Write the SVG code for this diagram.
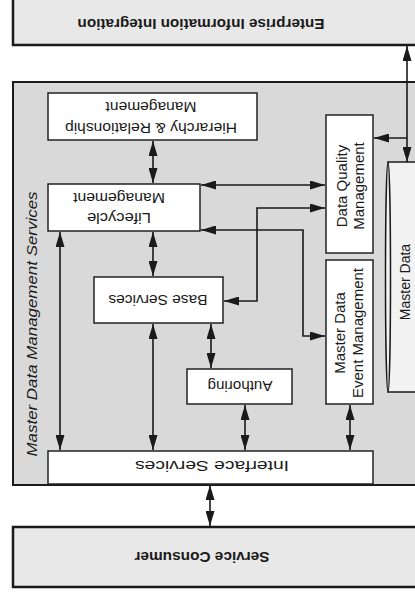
<svg xmlns="http://www.w3.org/2000/svg" width="415" height="594" viewBox="0 0 415 594">
<defs>
<style>
.outer{fill:#e8e8e8;stroke:#1a1a1a;stroke-width:2.5}
.cont{fill:#d9d9d9;stroke:#1a1a1a;stroke-width:2}
.box{fill:#ffffff;stroke:#222;stroke-width:1.5}
.t{font-family:"Liberation Sans",Arial,Helvetica,sans-serif;font-size:14px;fill:#1a1a1a;text-anchor:middle}
.b{font-weight:bold}
.v{font-size:15px}
.conn{fill:none;stroke:#1a1a1a;stroke-width:1.6;marker-start:url(#ah);marker-end:url(#ah)}
.one{fill:none;stroke:#1a1a1a;stroke-width:1.6;marker-end:url(#ah)}
</style>
<marker id="ah" viewBox="0 0 15 9" markerUnits="userSpaceOnUse" markerWidth="15" markerHeight="9" refX="15" refY="4.5" orient="auto-start-reverse">
<path d="M0,0 L15,4.5 L0,9 Z" fill="#1a1a1a"/>
</marker>
</defs>
<rect width="415" height="594" fill="#ffffff"/>

<g id="enterprise">
<rect class="outer" x="13" y="-3" width="405" height="48"/>
<text class="t b" x="201" y="28.9" textLength="247" lengthAdjust="spacingAndGlyphs" transform="rotate(180 201 24)">Enterprise Information Integration</text>
</g>

<g id="mdms">
<rect class="cont" x="13" y="82" width="405" height="403"/>
<text class="t" x="32" y="328.9" font-style="italic" textLength="265" lengthAdjust="spacingAndGlyphs" transform="rotate(-90 32 324)">Master Data Management Services</text>
</g>

<g id="consumer">
<rect class="outer" x="13" y="527" width="405" height="60"/>
<text class="t b" x="202" y="561.9" textLength="135" lengthAdjust="spacingAndGlyphs" transform="rotate(180 202 557)">Service Consumer</text>
</g>

<g id="hierarchy">
<rect class="box" x="48" y="93" width="209" height="47"/>
<text class="t" x="151" y="132.9" textLength="172" lengthAdjust="spacingAndGlyphs" transform="rotate(180 151 128)">Hierarchy &amp; Relationship</text>
<text class="t" x="151" y="111.9" textLength="91" lengthAdjust="spacingAndGlyphs" transform="rotate(180 151 107)">Management</text>
</g>

<g id="lifecycle">
<rect class="box" x="48" y="184" width="152" height="47"/>
<text class="t" x="119" y="222.9" textLength="64" lengthAdjust="spacingAndGlyphs" transform="rotate(180 119 218)">Lifecycle</text>
<text class="t" x="119" y="202.9" textLength="92" lengthAdjust="spacingAndGlyphs" transform="rotate(180 119 198)">Management</text>
</g>

<g id="base">
<rect class="box" x="94" y="277" width="129" height="46"/>
<text class="t" x="158" y="304.9" textLength="99" lengthAdjust="spacingAndGlyphs" transform="rotate(180 158 300)">Base Services</text>
</g>

<g id="authoring">
<rect class="box" x="187" y="369" width="105" height="35"/>
<text class="t" x="240" y="390.9" textLength="65" lengthAdjust="spacingAndGlyphs" transform="rotate(180 240 386)">Authoring</text>
</g>

<g id="interface">
<rect class="box" x="48" y="451" width="325" height="33"/>
<text class="t" x="212" y="473" font-size="17" textLength="154" lengthAdjust="spacingAndGlyphs" transform="rotate(180 212 467)">Interface Services</text>
</g>

<g id="dqm">
<rect class="box" x="326" y="115" width="47" height="138"/>
<text class="t v" x="342" y="191.2" transform="rotate(-90 342 186)">Data Quality</text>
<text class="t v" x="359" y="191.2" transform="rotate(-90 359 186)">Management</text>
</g>

<g id="mdem">
<rect class="box" x="326" y="260" width="47" height="144"/>
<text class="t v" x="340" y="338.2" transform="rotate(-90 340 333)">Master Data</text>
<text class="t v" x="358" y="338.2" transform="rotate(-90 358 333)">Event Management</text>
</g>

<g id="masterdata">
<path d="M388,162 L420,162 L420,392 L388,392 Z" fill="#f2f2f2" stroke="#1a1a1a" stroke-width="1.5"/>
<ellipse cx="388" cy="277" rx="2.5" ry="115" fill="#f2f2f2" stroke="#1a1a1a" stroke-width="1.5"/>
<text class="t" x="404" y="287.6" font-size="16" transform="rotate(-90 404 282)">Master Data</text>
</g>

<g id="connectors">
<line class="conn" x1="407" y1="46" x2="407" y2="162"/>
<line class="one" x1="407" y1="138" x2="374" y2="138"/>
<line class="conn" x1="153" y1="141" x2="153" y2="183"/>
<line class="conn" x1="201" y1="185" x2="325" y2="185"/>
<polyline class="conn" points="201,230 303,230 303,336 325,336"/>
<polyline class="conn" points="224,301 257,301 257,208 325,208"/>
<line class="conn" x1="153" y1="232" x2="153" y2="276"/>
<line class="conn" x1="60" y1="232" x2="60" y2="450"/>
<line class="conn" x1="153" y1="324" x2="153" y2="450"/>
<line class="conn" x1="211" y1="324" x2="211" y2="368"/>
<line class="conn" x1="245" y1="405" x2="245" y2="450"/>
<line class="conn" x1="350" y1="405" x2="350" y2="450"/>
<line class="conn" x1="210" y1="485" x2="210" y2="526"/>
</g>
</svg>
